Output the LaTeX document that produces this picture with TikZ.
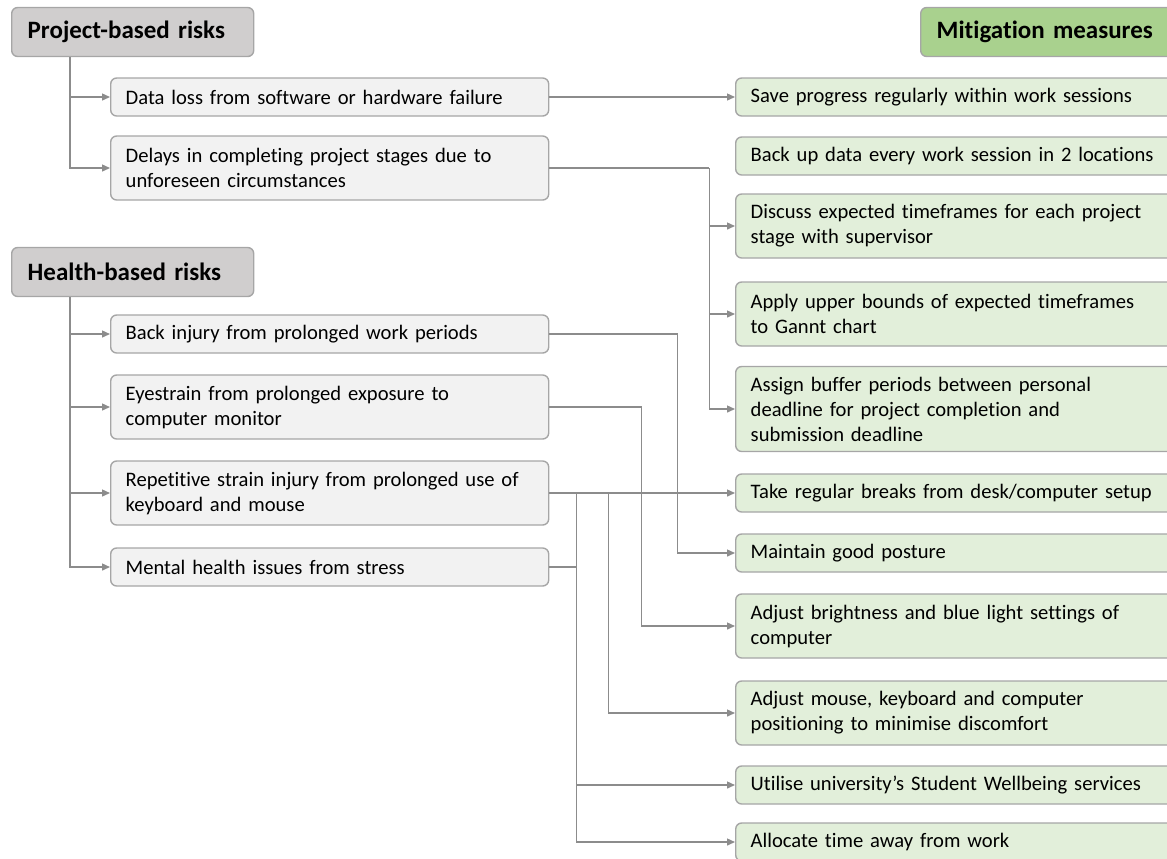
\documentclass[tikz,border=0pt]{standalone}
\usepackage{fontspec}
\setmainfont{Carlito}[Ligatures=NoCommon]
\usepackage{xcolor}
\usepackage{tikz}
\usetikzlibrary{positioning,arrows.meta,calc}

\hyphenpenalty=10000
\exhyphenpenalty=10000

\definecolor{riskgray}{HTML}{D0CECE}
\definecolor{risklight}{HTML}{F2F2F2}
\definecolor{fixgreen}{HTML}{A9D18E}
\definecolor{fixlight}{HTML}{E2EFDA}
\definecolor{edgegray}{HTML}{A6A6A6}
\definecolor{linkgray}{HTML}{8C8C8C}

\tikzset{
    basebox/.style={draw=edgegray, line width=0.7pt, rounded corners=3pt, anchor=west, align=left, inner xsep=8pt, inner ysep=0pt},
    headbox/.style={basebox, minimum height=24.5pt, text width=105pt, font=\bfseries\fontsize{12.5}{15}\selectfont},
    riskhead/.style={headbox, fill=riskgray},
    fixhead/.style={headbox, fill=fixgreen, text width=112pt},
    itembox/.style={basebox, inner xsep=7.5pt, text width=204pt, minimum height=19pt, font=\fontsize{10.3}{12.5}\selectfont},
    riskbox/.style={itembox, fill=risklight},
    fixbox/.style={itembox, fill=fixlight},
    twoline/.style={minimum height=32pt},
    threeline/.style={minimum height=42.5pt},
    trunk/.style={draw=linkgray, line width=0.7pt},
    link/.style={trunk, -{Triangle[length=4pt,width=3.5pt]}}
}

\begin{document}
\begin{tikzpicture}[x=0.5pt, y=-0.5pt]
    % Page frame
    \useasboundingbox (0,0) rectangle (1167,858);

    % Headers
    \node[riskhead] (projrisk) at (11,32) {Project-based risks};
    \node[riskhead] (healthrisk) at (11,272) {Health-based risks};
    \node[fixhead] (mitig) at (920,32) {Mitigation measures};

    % Project-based risks
    \node[riskbox] (data) at (110,97) {Data loss from software or hardware failure};
    \node[riskbox, twoline] (delay) at (110,168) {Delays in completing project stages due to\\unforeseen circumstances};

    % Health-based risks
    \node[riskbox] (back) at (110,334) {Back injury from prolonged work periods};
    \node[riskbox, twoline] (eye) at (110,407) {Eyestrain from prolonged exposure to\\computer monitor};
    \node[riskbox, twoline] (rsi) at (110,493) {Repetitive strain injury from prolonged use of\\keyboard and mouse};
    \node[riskbox] (mental) at (110,567) {Mental health issues from stress};

    % Mitigation measures
    \node[fixbox] (save) at (735,97) {Save progress regularly within work sessions};
    \node[fixbox] (backup) at (735,156) {Back up data every work session in 2 locations};
    \node[fixbox, twoline] (discuss) at (735,226) {Discuss expected timeframes for each project\\stage with supervisor};
    \node[fixbox, twoline] (gantt) at (735,314) {Apply upper bounds of expected timeframes\\to Gannt chart};
    \node[fixbox, threeline] (buffer) at (735,409) {Assign buffer periods between personal\\deadline for project completion and\\submission deadline};
    \node[fixbox] (breaks) at (735,493) {Take regular breaks from desk/computer setup};
    \node[fixbox] (posture) at (735,553) {Maintain good posture};
    \node[fixbox, twoline] (bright) at (735,626) {Adjust brightness and blue light settings of\\computer};
    \node[fixbox, twoline] (setup) at (735,713) {Adjust mouse, keyboard and computer\\positioning to minimise discomfort};
    \node[fixbox] (wellbeing) at (735,785) {Utilise university’s Student Wellbeing services};
    \node[fixbox] (away) at (735,842) {Allocate time away from work};

    % Trunks under the headers
    \coordinate (projtrunk) at ($(projrisk.south west)+(59,0)$);
    \coordinate (healthtrunk) at ($(healthrisk.south west)+(59,0)$);
    \foreach \r in {data,delay}
        \draw[link] (projtrunk) |- (\r.west);
    \foreach \r in {back,eye,rsi,mental}
        \draw[link] (healthtrunk) |- (\r.west);

    % Risks to measures
    \draw[link] (data.east) -- (save.west);

    \coordinate (delayjoin) at ($(delay.east)+(160,0)$);
    \draw[trunk] (delay.east) -- (delayjoin);
    \foreach \m in {discuss,gantt,buffer}
        \draw[link] (delayjoin) |- (\m.west);

    \draw[link] (back.east) -- ++(128,0) |- (posture.west);
    \draw[link] (eye.east) -- ++(92,0) |- (bright.west);

    \draw[link] (rsi.east) -- (breaks.west);
    \coordinate (rsijoin) at ($(rsi.east)+(59,0)$);
    \draw[link] (rsijoin) |- (setup.west);

    \coordinate (stressjoin) at ($(rsi.east)+(27,0)$);
    \draw[trunk] (mental.east) -- (mental.east -| stressjoin);
    \foreach \m in {wellbeing,away}
        \draw[link] (stressjoin) |- (\m.west);
\end{tikzpicture}
\end{document}
